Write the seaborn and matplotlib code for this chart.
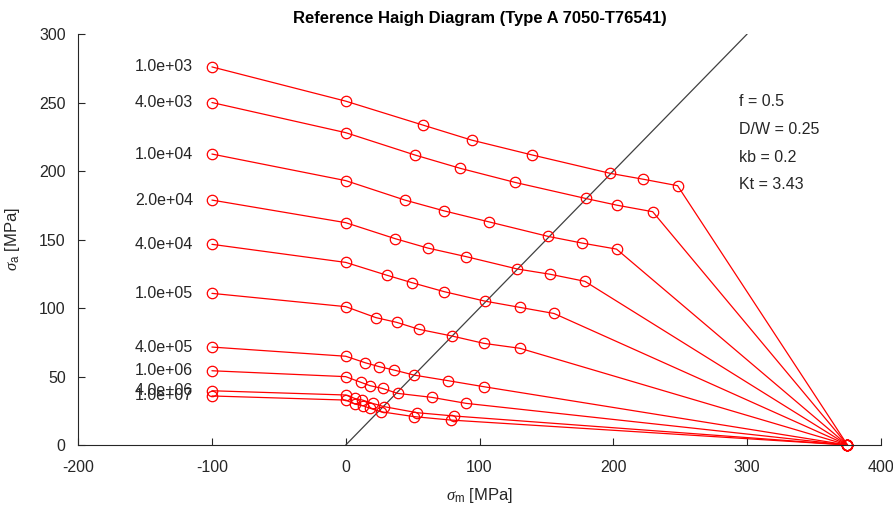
import numpy as np
import pandas as pd
import seaborn as sns
import matplotlib
matplotlib.use('Agg')
import matplotlib.pyplot as plt

# cycle counts for each constant-life line
life_labels = ["1.0e+03", "4.0e+03", "1.0e+04", "2.0e+04", "4.0e+04",
               "1.0e+05", "4.0e+05", "1.0e+06", "4.0e+06", "1.0e+07"]

# mean stress points (MPa) per line
sm_values = [
    [-100, 0, 57.5, 94.0, 139.4, 197.7, 222.4, 248.0, 375],
    [-100, 0, 51.7, 85.5, 126.5, 179.2, 203.0, 229.4, 375],
    [-100, 0, 44.2, 73.2, 107.4, 151.2, 176.7, 202.4, 375],
    [-100, 0, 37.0, 61.2, 90.0, 128.2, 153.0, 178.7, 375],
    [-100, 0, 30.5, 49.5, 73.7, 104.2, 130.0, 155.7, 375],
    [-100, 0, 22.5, 38.2, 55.0, 79.2, 103.2, 130.2, 375],
    [-100, 0, 14.7, 25.0, 36.2, 51.2, 76.2, 103.0, 375],
    [-100, 0, 11.2, 18.2, 27.5, 38.7, 64.2, 90.0, 375],
    [-100, 0, 6.7, 12.5, 20.0, 28.7, 53.2, 80.7, 375],
    [-100, 0, 6.7, 12.7, 18.2, 26.2, 51.2, 78.7, 375],
]

# alternating stress points (MPa) per line
sa_values = [
    [276.0, 251.0, 233.6, 222.6, 211.7, 198.3, 194.0, 189.3, 0],
    [250.0, 228.0, 211.7, 202.0, 191.7, 180.0, 175.0, 170.3, 0],
    [212.4, 193.0, 178.8, 171.0, 162.8, 152.3, 147.4, 143.0, 0],
    [178.8, 162.3, 150.6, 143.8, 137.5, 128.5, 124.6, 119.5, 0],
    [146.5, 133.3, 124.0, 118.5, 111.9, 105.0, 100.5, 96.0, 0],
    [110.7, 101.0, 93.0, 89.5, 84.4, 79.6, 74.2, 70.6, 0],
    [71.5, 64.8, 60.0, 57.2, 54.7, 51.0, 47.0, 42.6, 0],
    [54.2, 49.9, 45.8, 43.3, 41.3, 37.7, 34.8, 30.4, 0],
    [39.6, 36.5, 34.0, 32.8, 30.4, 28.0, 23.6, 21.2, 0],
    [35.8, 32.8, 29.9, 28.7, 26.8, 24.3, 20.7, 18.2, 0],
]

# sigma_a = sigma_m reference line
ref_sm = [0, 300]
ref_sa = [0, 300]

params = ["f = 0.5", "D/W = 0.25", "kb = 0.2", "Kt = 3.43"]
param_y = [251, 230, 210, 190]

rows = []
for lab, xs, ys in zip(life_labels, sm_values, sa_values):
    for i, (x, y) in enumerate(zip(xs, ys)):
        rows.append({"life": lab, "order": i, "sm": x, "sa": y})
df = pd.DataFrame(rows)

sns.set_style("ticks")
plt.rcParams['font.family'] = ['Liberation Sans', 'DejaVu Sans']
plt.rcParams['axes.unicode_minus'] = False
plt.rcParams['mathtext.fontset'] = 'custom'
plt.rcParams['mathtext.it'] = 'Liberation Serif:italic'
plt.rcParams['mathtext.rm'] = 'Liberation Sans'

fig = plt.figure(figsize=(8.93, 5.08), dpi=100)
ax = fig.add_axes([0.0875, 0.124, 0.899, 0.809])

ax.plot(ref_sm, ref_sa, color="#404040", lw=0.9)

sns.lineplot(data=df, x="sm", y="sa", units="life", estimator=None, sort=False,
             color="red", lw=0.9, marker="o", markersize=7.5,
             markerfacecolor="none", markeredgecolor="red", markeredgewidth=0.9,
             ax=ax, clip_on=False)

for lab, xs, ys in zip(life_labels, sm_values, sa_values):
    ax.text(xs[0] - 14, ys[0], lab, ha="right", va="center",
            fontsize=11.5, color="#262626")

for t, y in zip(params, param_y):
    ax.text(294, y, t, ha="left", va="center", fontsize=11.5, color="#262626")

ax.set_xlim(-200, 400)
ax.set_ylim(0, 300)
ax.set_xticks(np.arange(-200, 401, 100))
ax.set_yticks(np.arange(0, 301, 50))
ax.tick_params(direction="in", length=5, labelsize=11.5, colors="#262626")
ax.tick_params(axis="x", pad=11)
ax.tick_params(axis="y", pad=9)
sns.despine(ax=ax)
for s in ["left", "bottom"]:
    ax.spines[s].set_color("#262626")
    ax.spines[s].set_linewidth(0.8)

ax.set_xlabel(r"$\sigma_{\rm m}$ [MPa]", fontsize=12, color="#262626", labelpad=8)
ax.set_ylabel(r"$\sigma_{\rm a}$ [MPa]", fontsize=12, color="#262626", labelpad=12)
ax.set_title("Reference Haigh Diagram (Type A 7050-T76541)", fontsize=12,
             fontweight="bold", color="black", pad=8)

fig.savefig("out.png", dpi=100)
